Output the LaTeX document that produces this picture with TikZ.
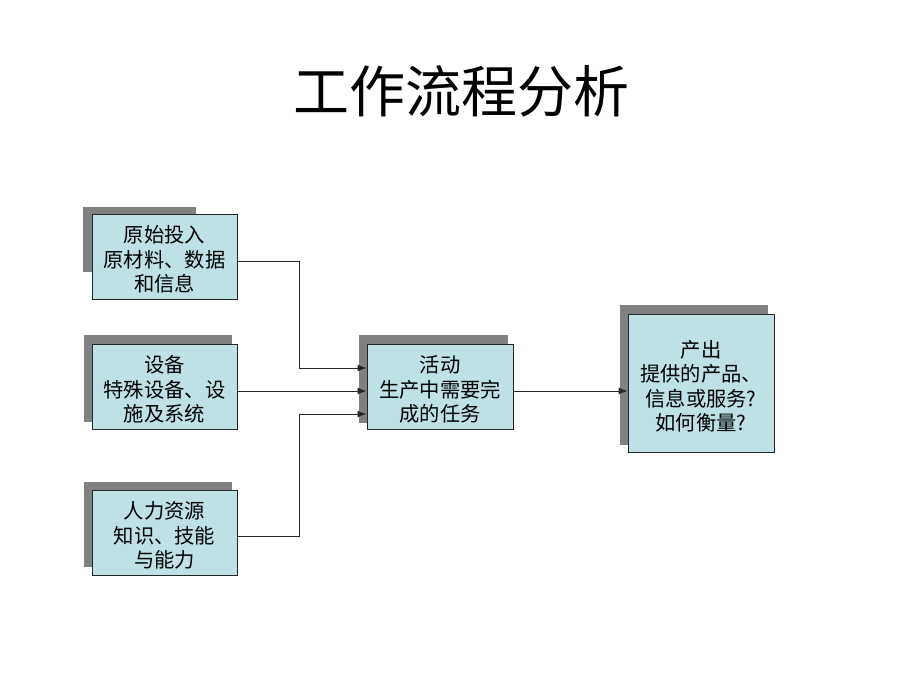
\documentclass[tikz,border=0pt]{standalone}
\usepackage{fontspec}
\setmainfont{Noto Sans CJK SC}
\usetikzlibrary{arrows.meta}
\definecolor{boxfill}{HTML}{BDE1E4}
\definecolor{shade}{HTML}{808080}
\definecolor{ln}{HTML}{262626}
\newcommand\bxtxt[1]{\raisebox{0pt}[\dimexpr\height+6pt][\dimexpr\depth-6pt]{\begin{tabular}{@{}c@{}}#1\end{tabular}}}
\tikzset{
  box/.style={draw=ln, line width=1pt, fill=boxfill, inner sep=0pt,
    font=\fontsize{20.3}{24.5}\selectfont},
  shadowbox/.style={fill=shade},
  conn/.style={draw=ln, line width=1pt, -{Latex[length=9pt,width=7pt]}},
}
\begin{document}
\begin{tikzpicture}[x=1pt,y=-1pt]
\useasboundingbox (0,0) rectangle (920,690);
% title
\node (title) at (461,91) {\fontsize{56}{62}\selectfont 工作流程分析};
% shadows
\fill[shadowbox] (83,207) rectangle (196,272);
\fill[shadowbox] (84,335) rectangle (232,422);
\fill[shadowbox] (84,482) rectangle (232,567);
\fill[shadowbox] (359,335) rectangle (508,423);
\fill[shadowbox] (620,305) rectangle (768,445);
% boxes
\node[box, minimum width=145pt, minimum height=85pt] (b1) at (164.5,256.5) {\bxtxt{原始投入\\原材料、数据\\和信息}};
\node[box, minimum width=145pt, minimum height=85pt] (b2) at (164.5,386.5) {\bxtxt{设备\\特殊设备、设\\施及系统}};
\node[box, minimum width=145pt, minimum height=85pt] (b3) at (164.5,532.5) {\bxtxt{人力资源\\知识、技能\\与能力}};
\node[box, minimum width=146pt, minimum height=85pt] (c) at (440,386.5) {\bxtxt{活动\\生产中需要完\\成的任务}};
\node[box, minimum width=146pt, minimum height=138pt] (out) at (701,383) {\bxtxt{产出\\提供的产品、\\信息或服务?\\如何衡量?}};
% connectors
\coordinate (j1) at (299,261);
\coordinate (j3) at (299,536);
\draw[conn] (b1.east |- j1) -- (j1) |- (c.west |- {(0,368)});
\draw[conn] (b2.east |- {(0,391)}) -- (c.west |- {(0,391)});
\draw[conn] (b3.east |- j3) -- (j3) |- (c.west |- {(0,414)});
\draw[conn] (c.east |- {(0,391)}) -- (out.west |- {(0,391)});
\end{tikzpicture}
\end{document}
